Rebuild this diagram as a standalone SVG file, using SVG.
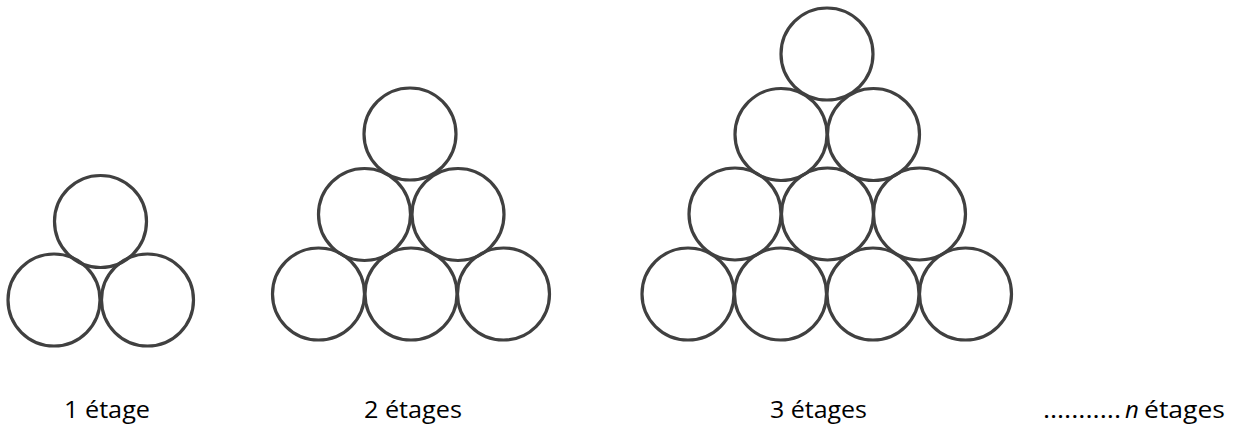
<svg xmlns="http://www.w3.org/2000/svg" width="1242" height="427" viewBox="0 0 1242 427">
<style>
.c{fill:none;stroke:#404040;stroke-width:3.2}
.t{font-family:"Open Sans","Liberation Sans",sans-serif;font-size:24px;fill:#000}
</style>
<defs><circle id="b" r="46" class="c"/></defs>
<rect width="1242" height="427" fill="#fff"/>
<g id="stage1">
<use href="#b" x="100.5" y="221.5"/>
<use href="#b" x="54" y="300"/>
<use href="#b" x="147.5" y="300"/>
</g>
<g id="stage2">
<use href="#b" x="410" y="134"/>
<use href="#b" x="364.5" y="214.5"/>
<use href="#b" x="458" y="214.5"/>
<use href="#b" x="318.5" y="294"/>
<use href="#b" x="411" y="294"/>
<use href="#b" x="503.5" y="294"/>
</g>
<g id="stage3">
<use href="#b" x="827" y="54"/>
<use href="#b" x="781" y="134.5"/>
<use href="#b" x="873.5" y="134.5"/>
<use href="#b" x="735" y="214"/>
<use href="#b" x="827.5" y="214"/>
<use href="#b" x="919.5" y="214"/>
<use href="#b" x="688" y="294"/>
<use href="#b" x="780.5" y="294"/>
<use href="#b" x="873" y="294"/>
<use href="#b" x="965.5" y="294"/>
</g>
<g id="labels">
<text class="t" x="64" y="418" textLength="86" lengthAdjust="spacingAndGlyphs">1 étage</text>
<text class="t" x="364" y="418" textLength="98" lengthAdjust="spacingAndGlyphs">2 étages</text>
<text class="t" x="770" y="418" textLength="97" lengthAdjust="spacingAndGlyphs">3 étages</text>
<text class="t" x="1043" y="418" textLength="78" lengthAdjust="spacingAndGlyphs">…........</text>
<text class="t" x="1125" y="418" font-style="italic">n</text>
<text class="t" x="1144" y="418" textLength="81" lengthAdjust="spacingAndGlyphs">étages</text>
</g>
</svg>
